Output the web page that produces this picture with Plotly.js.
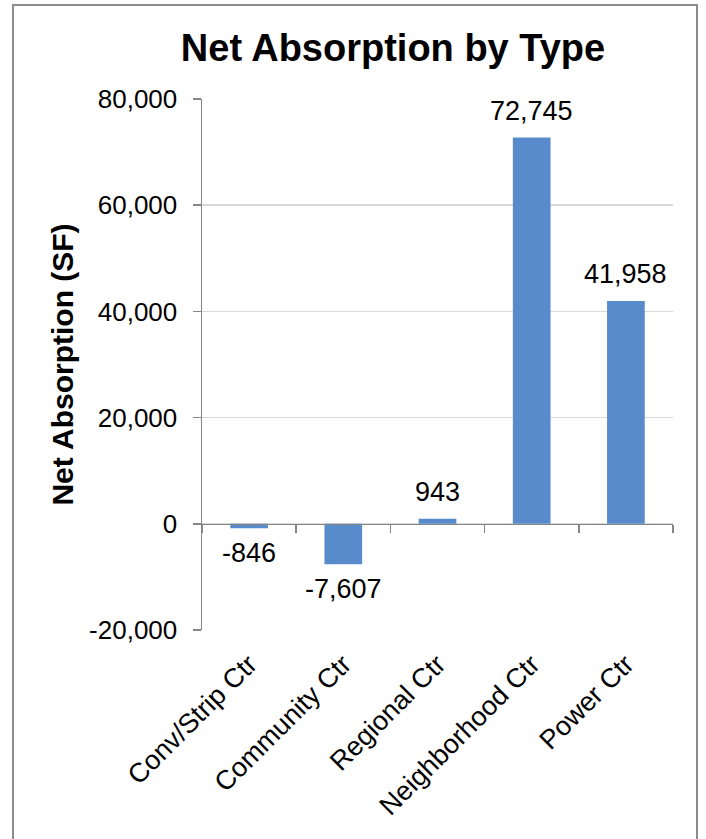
<!DOCTYPE html>
<html>
<head>
<meta charset="utf-8">
<script src="https://cdn.plot.ly/plotly-3.0.1.min.js"></script>
<style>
  html, body { margin: 0; padding: 0; background: #fff; }
  #wrap { position: relative; width: 706px; height: 839px; overflow: hidden; }
  #chart { position: absolute; left: 0; top: 0; width: 706px; height: 839px; }
  #frame { position: absolute; left: 12px; top: 4px; width: 682px; height: 850px;
           border: 2px solid #8c8c8c; pointer-events: none; }
</style>
</head>
<body>
<div id="wrap">
  <div id="chart"></div>
  <div id="frame"></div>
</div>
<script>
const categories = ["Conv/Strip Ctr", "Community Ctr", "Regional Ctr", "Neighborhood Ctr", "Power Ctr"];
const netAbsorption = [-846, -7607, 943, 72745, 41958];
const yTickValues = [-20000, 0, 20000, 40000, 60000, 80000];
const yTickLabels = ["-20,000", "0", "20,000", "40,000", "60,000", "80,000"];

const FONT = "Liberation Sans, Arial, Helvetica, sans-serif";
const fmt = v => (v < 0 ? "-" : "") + Math.abs(v).toLocaleString("en-US");

const traces = [
  {
    type: "bar",
    x: categories,
    y: netAbsorption,
    marker: { color: "#588bcb", line: { width: 0 } },
    hoverinfo: "x+y",
    showlegend: false
  },
  {
    type: "scatter",
    mode: "none",
    x: categories,
    y: netAbsorption,
    xaxis: "x2",
    hoverinfo: "skip",
    showlegend: false
  }
];

const annotations = categories.map((c, i) => ({
  x: c,
  y: netAbsorption[i],
  xref: "x",
  yref: "y",
  text: fmt(netAbsorption[i]),
  showarrow: false,
  xanchor: "center",
  yanchor: "middle",
  yshift: netAbsorption[i] >= 0 ? 27 : -25,
  font: { family: FONT, size: 27, color: "#000" }
}));

const layout = {
  width: 706,
  height: 839,
  margin: { l: 202, r: 33, t: 99, b: 209, pad: 0 },
  paper_bgcolor: "#fff",
  plot_bgcolor: "#fff",
  bargap: 0.6,
  title: {
    text: "<b>Net Absorption by Type</b>",
    font: { family: FONT, size: 38, color: "#000" },
    xref: "container", x: 393 / 706, xanchor: "center",
    yref: "container", y: 1 - 48 / 839, yanchor: "middle"
  },
  xaxis: {
    type: "category",
    range: [-0.5, 4.5],
    showgrid: false,
    showline: false,
    zeroline: false,
    ticks: "",
    tickangle: -45,
    tickfont: { family: FONT, size: 27, color: "#000" },
    ticklabelstandoff: 12,
    fixedrange: true
  },
  xaxis2: {
    type: "category",
    overlaying: "x",
    anchor: "free",
    position: 0.2,
    range: [-0.5, 4.5],
    showgrid: false,
    zeroline: false,
    showline: true,
    linecolor: "#868686",
    linewidth: 1.5,
    ticks: "outside",
    tickson: "boundaries",
    ticklen: 8,
    tickwidth: 1.5,
    tickcolor: "#868686",
    showticklabels: false,
    fixedrange: true
  },
  yaxis: {
    range: [-20000, 80000],
    tickvals: yTickValues,
    ticktext: yTickLabels,
    showgrid: true,
    gridcolor: "#d9d9d9",
    gridwidth: 1.5,
    zeroline: false,
    showline: true,
    linecolor: "#868686",
    linewidth: 1.5,
    ticks: "outside",
    ticklen: 8,
    tickwidth: 1.5,
    tickcolor: "#868686",
    ticklabelstandoff: 10,
    tickfont: { family: FONT, size: 26, color: "#000" },
    title: {
      text: "<b>Net Absorption (SF)</b>",
      font: { family: FONT, size: 30, color: "#000" },
      standoff: 6
    },
    fixedrange: true
  },
  annotations: annotations,
  showlegend: false
};

Plotly.newPlot("chart", traces, layout, { displayModeBar: false, staticPlot: true });
</script>
</body>
</html>
